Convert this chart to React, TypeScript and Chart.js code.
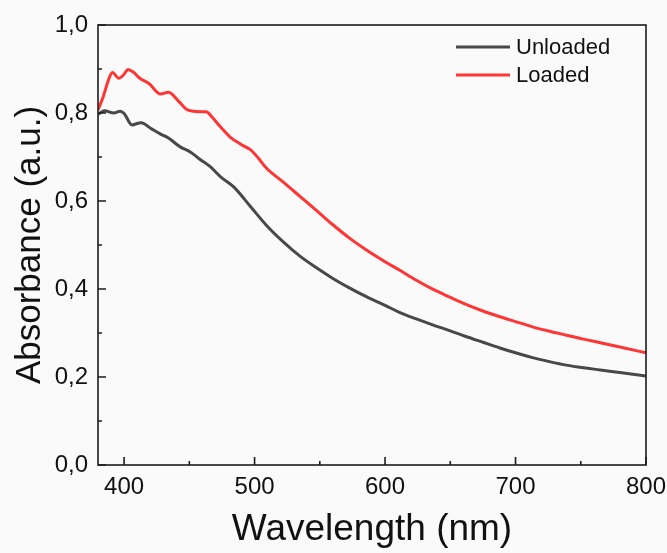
import React, { useEffect, useRef } from "react";
import { Chart, registerables } from "chart.js";

Chart.register(...registerables);

const unloadedWavelength = [380, 385, 392, 397, 400, 406, 413, 421, 428, 434, 443, 451, 458, 466, 474, 484, 497, 509, 522, 535, 548, 560, 573, 586, 600, 611, 624, 637, 650, 662, 675, 688, 700, 713, 726, 739, 752, 765, 780, 800];
const unloadedAbs = [0.797, 0.805, 0.800, 0.804, 0.799, 0.773, 0.778, 0.764, 0.752, 0.743, 0.723, 0.711, 0.695, 0.678, 0.655, 0.632, 0.587, 0.545, 0.507, 0.474, 0.447, 0.424, 0.402, 0.382, 0.363, 0.347, 0.332, 0.318, 0.305, 0.292, 0.279, 0.266, 0.255, 0.244, 0.235, 0.227, 0.221, 0.216, 0.210, 0.202];

const loadedWavelength = [380, 384, 388, 391, 396, 400, 403, 407, 412, 419, 428, 434, 442, 448, 453, 458, 463, 467, 474, 481, 490, 497, 503, 509, 522, 535, 548, 560, 573, 586, 600, 611, 624, 637, 650, 662, 675, 688, 700, 713, 726, 739, 752, 765, 780, 800];
const loadedAbs = [0.807, 0.837, 0.875, 0.892, 0.879, 0.888, 0.899, 0.893, 0.879, 0.867, 0.843, 0.847, 0.826, 0.808, 0.804, 0.803, 0.803, 0.792, 0.768, 0.746, 0.728, 0.716, 0.697, 0.675, 0.643, 0.610, 0.577, 0.546, 0.515, 0.488, 0.462, 0.443, 0.420, 0.399, 0.381, 0.365, 0.350, 0.337, 0.326, 0.314, 0.304, 0.295, 0.286, 0.278, 0.268, 0.255];

const seriesLabels = ["Unloaded", "Loaded"];
const xTickValues = [400, 500, 600, 700, 800];
const xMinorTicks = [450, 550, 650, 750];
const yTickValues = [0, 0.2, 0.4, 0.6, 0.8, 1.0];
const yMinorTicks = [0.1, 0.3, 0.5, 0.7, 0.9];

const FONT = "'Liberation Sans', Arial, sans-serif";

const framePlugin = {
  id: "frameTicks",
  afterDraw(chart: any) {
    const { ctx, chartArea } = chart;
    const xs = chart.scales.x;
    const ys = chart.scales.y;
    ctx.save();
    ctx.strokeStyle = "#1c1c1c";
    ctx.lineWidth = 1.6;
    ctx.strokeRect(chartArea.left, chartArea.top, chartArea.right - chartArea.left, chartArea.bottom - chartArea.top);
    ctx.beginPath();
    xTickValues.forEach((v) => {
      const p = xs.getPixelForValue(v);
      ctx.moveTo(p, chartArea.bottom);
      ctx.lineTo(p, chartArea.bottom - 8);
    });
    xMinorTicks.forEach((v) => {
      const p = xs.getPixelForValue(v);
      ctx.moveTo(p, chartArea.bottom);
      ctx.lineTo(p, chartArea.bottom - 4);
    });
    yTickValues.forEach((v) => {
      const p = ys.getPixelForValue(v);
      ctx.moveTo(chartArea.left, p);
      ctx.lineTo(chartArea.left + 8, p);
    });
    yMinorTicks.forEach((v) => {
      const p = ys.getPixelForValue(v);
      ctx.moveTo(chartArea.left, p);
      ctx.lineTo(chartArea.left + 4, p);
    });
    ctx.stroke();

    // legend inside plot, top right
    chart.data.datasets.forEach((ds: any, i: number) => {
      const y = chartArea.top + 22 + i * 28;
      const x0 = chartArea.right - 190;
      ctx.strokeStyle = ds.borderColor;
      ctx.lineWidth = 3;
      ctx.beginPath();
      ctx.moveTo(x0, y);
      ctx.lineTo(x0 + 54, y);
      ctx.stroke();
      ctx.fillStyle = "#111";
      ctx.font = `22px ${FONT}`;
      ctx.textBaseline = "middle";
      ctx.textAlign = "left";
      ctx.fillText(ds.label, x0 + 60, y + 1);
    });
    ctx.restore();
  },
};

export default function App() {
  const ref = useRef<HTMLCanvasElement | null>(null);
  useEffect(() => {
    if (!ref.current) return;
    const chart = new Chart(ref.current, {
      type: "line",
      data: {
        datasets: [
          {
            label: seriesLabels[0],
            data: unloadedWavelength.map((x, i) => ({ x, y: unloadedAbs[i] })),
            borderColor: "#484848",
            borderWidth: 3,
            pointRadius: 0,
            cubicInterpolationMode: "monotone",
            fill: false,
          },
          {
            label: seriesLabels[1],
            data: loadedWavelength.map((x, i) => ({ x, y: loadedAbs[i] })),
            borderColor: "#ff3535",
            borderWidth: 3,
            pointRadius: 0,
            cubicInterpolationMode: "monotone",
            fill: false,
          },
        ],
      },
      options: {
        animation: false,
        responsive: true,
        maintainAspectRatio: false,
        layout: { padding: { top: 25, right: 21, left: 0, bottom: 0 } },
        plugins: { legend: { display: false }, tooltip: { enabled: false } },
        scales: {
          x: {
            type: "linear",
            min: 380,
            max: 800,
            grid: { display: false, drawTicks: false },
            border: { display: false },
            afterBuildTicks: (axis: any) => {
              axis.ticks = xTickValues.map((v) => ({ value: v }));
            },
            afterFit: (axis: any) => {
              axis.height = 88;
              axis.paddingRight = 0;
              axis.paddingLeft = 0;
            },
            ticks: {
              color: "#111",
              font: { family: FONT, size: 24 },
              padding: 8,
              maxRotation: 0,
              autoSkip: false,
              callback: (v: any) => String(v),
            },
            title: {
              display: true,
              text: "Wavelength (nm)",
              color: "#111",
              font: { family: FONT, size: 37 },
              padding: { top: 0, bottom: 1 },
            },
          },
          y: {
            min: 0,
            max: 1,
            grid: { display: false, drawTicks: false },
            border: { display: false },
            afterBuildTicks: (axis: any) => {
              axis.ticks = yTickValues.map((v) => ({ value: v }));
            },
            afterFit: (axis: any) => {
              axis.width = 98;
              axis.paddingTop = 0;
              axis.paddingBottom = 0;
            },
            ticks: {
              color: "#111",
              font: { family: FONT, size: 24 },
              padding: 10,
              autoSkip: false,
              callback: (v: any) => Number(v).toFixed(1).replace(".", ","),
            },
            title: {
              display: true,
              text: "Absorbance (a.u.)",
              color: "#111",
              font: { family: FONT, size: 35 },
              padding: { top: 9, bottom: 0 },
            },
          },
        },
      },
      plugins: [framePlugin],
    });
    return () => chart.destroy();
  }, []);
  return (
    <div style={{ position: "fixed", left: 0, top: 0, width: 667, height: 553, background: "#fafafa" }}>
      <canvas ref={ref} />
    </div>
  );
}
